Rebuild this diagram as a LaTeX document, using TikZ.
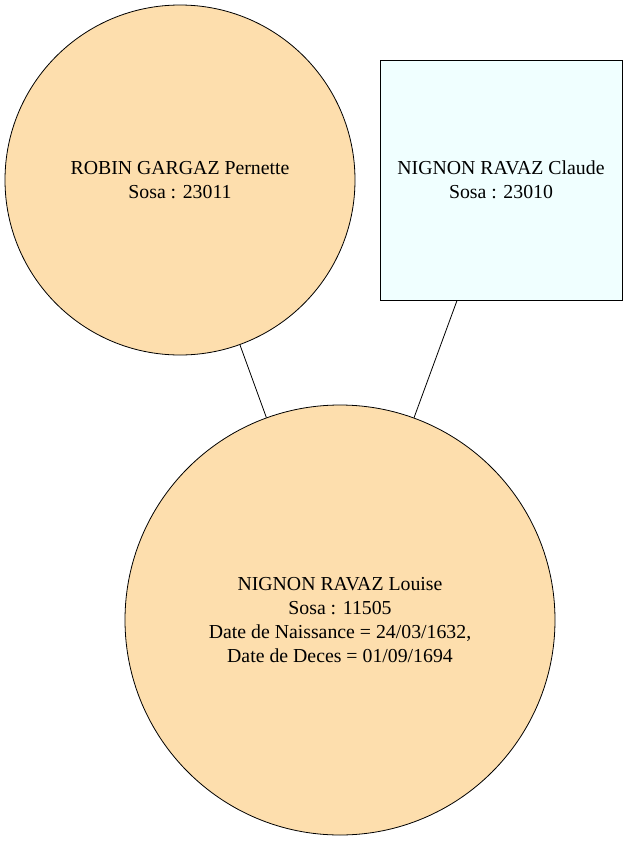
\documentclass[tikz,border=0pt]{standalone}
\usepackage{fontspec}
\setmainfont{Liberation Serif}
\begin{document}
\begin{tikzpicture}[x=1pt,y=-1pt,
  person/.style={draw=black, line width=0.8pt, fill=ncol, circle, inner sep=0pt, align=center, font=\fontsize{19.8}{23.8}\selectfont},
  manbox/.style={draw=black, line width=0.8pt, fill=mcol, rectangle, inner sep=0pt, align=center, font=\fontsize{19.8}{23.8}\selectfont},
  link/.style={draw=black, line width=0.8pt}]
\definecolor{ncol}{HTML}{FDDEAD}
\definecolor{mcol}{HTML}{F0FFFF}
\useasboundingbox[fill=white] (0,0) rectangle (627,841);
\node[person, minimum size=350pt] (rp) at (180,180) {ROBIN GARGAZ Pernette\\Sosa : 23011};
\node[manbox, minimum width=242pt, minimum height=240pt] (nc) at (501,180) {NIGNON RAVAZ Claude\\Sosa : 23010};
\node[person, minimum size=430pt] (nl) at (340,620) {NIGNON RAVAZ Louise\\Sosa : 11505\\Date de Naissance = 24/03/1632,\\Date de Deces = 01/09/1694};
\draw[link] (rp) -- (nl);
\draw[link] (nc) -- (nl);
\end{tikzpicture}
\end{document}
